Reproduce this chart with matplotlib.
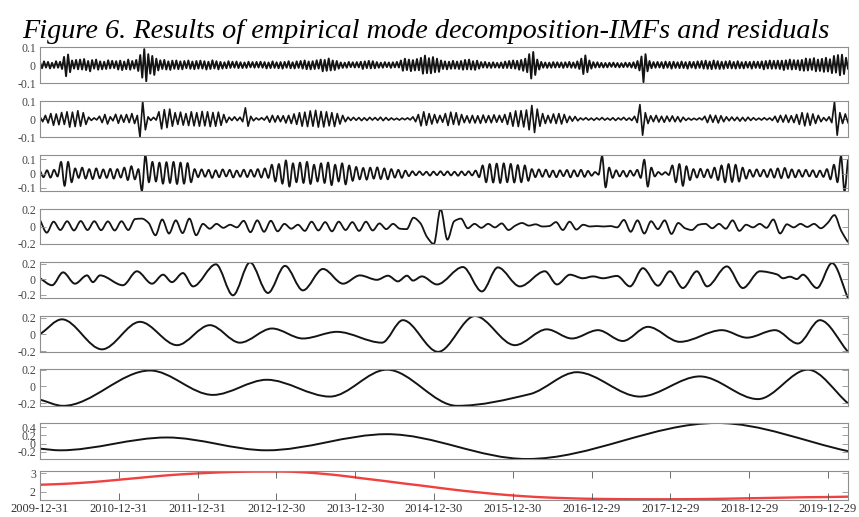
import numpy as np
import matplotlib.pyplot as plt
from matplotlib.path import Path
from matplotlib.patches import PathPatch
from matplotlib.ticker import FuncFormatter

plt.rcParams['font.family'] = ['Liberation Serif', 'DejaVu Serif']
plt.rcParams['axes.unicode_minus'] = False

# time axis: days counted from 2009-12-31
n_days = 3743
tick_days = [0, 365, 730, 1095, 1460, 1825, 2190, 2555, 2920, 3285, 3650]
tick_labels = ['2009-12-31', '2010-12-31', '2011-12-31', '2012-12-30', '2013-12-30',
               '2014-12-30', '2015-12-30', '2016-12-29', '2017-12-29', '2018-12-29',
               '2019-12-29']

# IMF1 / IMF2 / IMF3 / IMF4 extrema (x 0.001), evenly spaced in time
imf1 = [15,-18,20,-14,17,-19,12,-16,21,-15, 18,-22,45,-62,58,-40,25,-20,28,-24,
        30,-25,33,-28,22,-35,27,-20,30,-26, 20,-24,18,-22,26,-19,23,-17,21,-25,
        24,-28,19,-23,30,-26,22,-20,28,-33, 55,-70,88,-90,60,-48,50,-55,35,-30,
        26,-22,28,-25,20,-27,24,-21,25,-23, 20,-24,22,-18,25,-21,19,-23,22,-20,
        24,-20,21,-25,18,-22,26,-19,21,-24, 17,-20,15,-18,21,-16,18,-15,19,-17,
        15,-17,14,-16,18,-13,16,-15,17,-14, 18,-15,16,-19,14,-17,20,-16,15,-18,
        16,-20,17,-15,21,-18,15,-19,20,-16, 22,-20,25,-23,19,-24,21,-22,26,-20,
        30,-35,28,-32,36,-30,25,-28,22,-20, 14,-16,13,-15,17,-12,15,-14,16,-13,
        18,-22,20,-17,23,-19,21,-18,16,-15, 13,-15,16,-12,14,-16,15,-13,17,-14,
        25,-32,35,-28,30,-34,27,-30,33,-29, 40,-48,52,-45,38,-46,44,-40,35,-38,
        25,-22,20,-24,18,-21,23,-20,19,-22, 22,-26,28,-24,30,-25,21,-27,24,-20,
        16,-14,17,-15,13,-16,15,-14,12,-15, 14,-17,19,-16,22,-18,25,-20,23,-26,
        28,-32,35,-40,60,-75,72,-55,30,-25, 17,-15,14,-16,13,-15,16,-14,15,-13,
        14,-16,15,-13,17,-15,14,-16,20,-22, 35,-50,53,-40,25,-20,16,-14,15,-13,
        12,-14,11,-13,12,-10,13,-12,11,-13, 10,-12,13,-11,12,-14,15,-18,22,-30,
        47,-95,60,-35,22,-18,16,-15,17,-14, 16,-18,19,-15,17,-20,18,-16,15,-17,
        19,-17,16,-20,18,-15,17,-19,20,-16, 22,-20,24,-21,19,-23,25,-20,21,-22,
        18,-21,20,-17,22,-19,17,-20,21,-18, 16,-19,18,-15,17,-20,19,-16,18,-17,
        20,-24,22,-19,25,-21,23,-20,24,-22, 24,-28,26,-22,30,-25,27,-23,26,-29,
        28,-32,36,-30,33,-27,38,-35,30,-33, 34,-38,40,-36,32,-45,50,-42,55,-57,
        57,-50,40,-20]

imf2 = [12,-15,20,-22,30,-35,28,-32,36,-30, 40,-45,38,-42,46,-40,35,-30,10,-8,
        6,-5,15,-20,25,-28,12,-10,26,-24, 22,-18,25,-20,30,-25,20,-100,98,-60,
        12,-8,9,-6,40,-55,52,-48,55,-40, 35,-30,38,-34,30,-36,40,-38,35,-40,
        42,-38,40,-42,36,-40,38,-35,25,-20, 10,-8,12,-9,10,-15,62,-40,15,-10,
        6,-5,7,-6,15,-18,20,-17,18,-15, 18,-22,20,-25,28,-30,35,-40,38,-42,
        45,-40,48,-45,42,-44,40,-38,35,-42, 30,-28,20,-15,10,-8,9,-7,8,-9,
        7,-8,9,-6,8,-7,10,-9,8,-7, 6,-5,4,-6,5,-4,6,-5,12,-15,
        25,-38,40,-35,30,-28,25,-22,20,-18, 30,-36,38,-30,35,-33,25,-20,18,-22,
        20,-22,18,-24,22,-20,19,-21,23,-18, 20,-18,25,-30,35,-40,45,-42,46,-44,
        50,-60,75,-75,55,-40,30,-25,20,-22, 28,-25,30,-28,25,-20,15,-12,14,-10,
        6,-5,7,-6,5,-7,6,-5,8,-6, 5,-6,7,-8,6,-5,9,-7,6,-8,
        15,-20,80,-90,35,-25,18,-15,20,-17, 15,-18,16,-14,17,-15,13,-16,10,-8,
        5,-6,4,-5,6,-5,15,-20,22,-18, 20,-22,18,-15,12,-10,11,-9,10,-12,
        9,-11,10,-8,7,-6,5,-6,7,-5, 6,-8,15,-18,20,-17,22,-19,18,-20,
        25,-30,35,-38,32,-35,28,-25,20,-15, 8,-10,12,-20,95,-90,35,-25,28,-20]

imf3 = [20,-25,22,-28,25,-20,80,-85,80,-60, 35,-30,40,-35,30,-38,35,-32,28,-30,
        32,-35,30,-28,40,-45,50,-40,30,-120, 125,-60,80,-55,75,-70,78,-65,80,-72,
        75,-70,72,-60,30,-25,28,-22,25,-30, 22,-25,28,-20,25,-27,20,-22,26,-24,
        25,-22,30,-28,35,-30,60,-55,65,-70, 90,-90,70,-60,75,-65,80,-72,60,-55,
        70,-65,75,-80,60,-55,70,-75,55,-50, 45,-40,38,-42,40,-35,42,-38,35,-40,
        30,-28,25,-30,20,-18,15,-12,14,-10, 12,-14,13,-11,15,-12,14,-13,12,-15,
        14,-12,15,-13,20,-25,55,-60,65,-62, 68,-65,70,-60,66,-62,58,-60,55,-50,
        30,-25,28,-22,26,-24,20,-25,22,-18, 24,-26,22,-20,25,-23,18,-15,10,-8,
        120,-95,40,-30,22,-20,18,-22,20,-15, 25,-30,95,-90,40,-20,10,-8,9,-10,
        55,-60,65,-85,50,-45,30,-28,32,-25, 28,-30,40,-45,55,-60,65,-58,60,-55,
        40,-35,25,-22,28,-20,25,-24,30,-28, 35,-32,38,-30,28,-26,24,-22,25,-20,
        22,-25,20,-23,30,-40,60,-60,120,-120,100]

imf4 = [75,-70,55,-40,60,-45,62,-40,60,-42, 58,-45,60,-40,85,90,40,-100,80,-80,
        70,-75,90,-100,30,-25,30,-15,20,-10, 65,-65,70,-60,65,-55,30,-25,20,-50,
        55,-45,50,-55,55,-40,50,-50,55,-45, 35,-30,30,-25,-30,100,40,-120,-200,200,
        -150,60,90,-20,30,-15,30,-10,35,-40, 10,40,10,25,0,5,50,-40,55,-35,
        20,0,5,0,5,-10,75,-60,70,-80, 60,-30,70,-85,40,-20,-40,20,30,-20,
        30,-25,70,-50,20,-10,30,-15,80,-80, 25,-10,30,-5,30,-20,40,130,-50,-180]

# IMF5 .. IMF8 turning points (day, value)
imf5_days = [0, 56, 107, 162, 218, 245, 278, 384, 449, 519, 570, 611, 662, 709, 815,
             894, 973, 1056, 1135, 1218, 1311, 1404, 1482, 1561, 1612, 1658, 1700,
             1728, 1769, 1839, 1959, 2047, 2121, 2223, 2339, 2395, 2455, 2515, 2562,
             2608, 2673, 2733, 2793, 2863, 2918, 2978, 3043, 3090, 3182, 3256, 3335,
             3414, 3442, 3474, 3506, 3534, 3599, 3669, 3743]
imf5_vals = [0.01, -0.08, 0.086, -0.06, 0.047, -0.04, 0.047, -0.08, 0.10, -0.06, 0.056,
             -0.04, 0.077, -0.095, 0.19, -0.21, 0.215, -0.18, 0.17, -0.146, 0.13, -0.06,
             0.047, -0.01, 0.043, -0.03, 0.043, -0.02, 0.034, -0.07, 0.155, -0.16, 0.15,
             -0.095, 0.10, -0.07, 0.056, 0.01, 0.034, 0.01, 0.04, -0.095, 0.14, -0.086,
             0.10, -0.116, 0.10, -0.095, 0.163, -0.116, 0.10, 0.06, 0.01, 0.03, 0.0,
             0.056, -0.116, 0.206, -0.245]

imf6_days = [0, 102, 287, 463, 635, 787, 926, 1075, 1218, 1376, 1584, 1681, 1844, 2015,
             2200, 2348, 2464, 2585, 2700, 2816, 2964, 3159, 3275, 3405, 3511, 3613, 3743]
imf6_vals = [0.0, 0.18, -0.18, 0.15, -0.13, 0.11, -0.10, 0.07, -0.05, 0.03, -0.10, 0.17,
             -0.21, 0.22, -0.13, 0.06, -0.05, 0.05, -0.08, 0.09, -0.09, 0.05, -0.04, 0.05,
             -0.11, 0.17, -0.21]

imf7_days = [0, 107, 510, 801, 1051, 1343, 1607, 1932, 2270, 2487, 2779, 3057, 3326, 3557, 3743]
imf7_vals = [-0.156, -0.23, 0.19, -0.10, 0.08, -0.12, 0.20, -0.23, -0.09, 0.17, -0.12,
             0.12, -0.15, 0.20, -0.20]

imf8_days = [0, 93, 588, 1051, 1607, 2256, 3136, 3743]
imf8_vals = [-0.12, -0.16, 0.15, -0.16, 0.23, -0.37, 0.5, -0.18]

# residual trend, evenly spaced
residual = [2.38, 2.42, 2.48, 2.56, 2.66, 2.76, 2.86, 2.94, 3.00, 3.05, 3.08, 3.09, 3.09,
            3.05, 2.97, 2.86, 2.72, 2.59, 2.45, 2.32, 2.18, 2.05, 1.94, 1.84, 1.76, 1.70,
            1.66, 1.63, 1.615, 1.605, 1.60, 1.60, 1.605, 1.615, 1.63, 1.65, 1.67, 1.69,
            1.71, 1.72, 1.74]


def smooth_path(x, y):
    # cubic Bezier through every point, flat at turning points
    x = np.asarray(x, float)
    y = np.asarray(y, float)
    dx = np.diff(x)
    sec = np.diff(y) / dx
    m = np.zeros_like(y)
    m[0], m[-1] = sec[0], sec[-1]
    for i in range(1, len(y) - 1):
        if sec[i - 1] * sec[i] > 0:
            m[i] = 2 / (1 / sec[i - 1] + 1 / sec[i])
    verts = [(x[0], y[0])]
    for i in range(len(dx)):
        h = dx[i] / 3
        verts += [(x[i] + h, y[i] + m[i] * h), (x[i + 1] - h, y[i + 1] - m[i + 1] * h),
                  (x[i + 1], y[i + 1])]
    codes = [Path.MOVETO] + [Path.CURVE4] * (3 * len(dx))
    return Path(verts, codes)


W, H = 859, 517
fig = plt.figure(figsize=(W / 100, H / 100), dpi=100)

# panel frames in pixels: (top, bottom)
frames = [(47, 83), (101, 137), (155, 191), (209, 244), (262, 298),
          (316, 352), (369, 406), (423, 459), (471, 500)]
ylims = [(-0.1, 0.1), (-0.1, 0.1), (-0.121, 0.128), (-0.2, 0.2), (-0.245, 0.22),
         (-0.212, 0.22), (-0.232, 0.208), (-0.37, 0.5), (1.56, 3.12)]
yticks = [[-0.1, 0, 0.1], [-0.1, 0, 0.1], [-0.1, 0, 0.1], [-0.2, 0, 0.2], [-0.2, 0, 0.2],
          [-0.2, 0, 0.2], [-0.2, 0, 0.2], [-0.2, 0, 0.2, 0.4], [2, 3]]

axes = []
for (top, bot), yl, yt in zip(frames, ylims, yticks):
    ax = fig.add_axes([40 / W, 1 - bot / H, 808 / W, (bot - top) / H])
    ax.set_xlim(0, n_days)
    ax.set_ylim(*yl)
    ax.set_yticks(yt)
    ax.yaxis.set_major_formatter(FuncFormatter(lambda v, p: '%g' % v))
    for s in ax.spines.values():
        s.set_color('#8f8f8f')
        s.set_linewidth(0.8)
    ax.tick_params(axis='y', direction='in', length=4, width=0.6, color='#8f8f8f',
                   left=True, right=True, labelsize=8.5, labelcolor='#444444', pad=3)
    ax.tick_params(axis='x', bottom=False, labelbottom=False)
    axes.append(ax)

line_col = '#141414'
for ax, vals, lw in zip(axes[:2], [imf1, imf2], [1.4, 1.2]):
    t = np.linspace(0, n_days, len(vals))
    ax.plot(t, np.array(vals) / 1000, color=line_col, lw=lw)

for ax, vals in zip(axes[2:4], [imf3, imf4]):
    t = np.linspace(0, n_days, len(vals))
    ax.add_patch(PathPatch(smooth_path(t, np.array(vals) / 1000), fill=False,
                           edgecolor=line_col, lw=1.3))

for ax, d, v in zip(axes[4:8], [imf5_days, imf6_days, imf7_days, imf8_days],
                    [imf5_vals, imf6_vals, imf7_vals, imf8_vals]):
    ax.add_patch(PathPatch(smooth_path(d, v), fill=False, edgecolor=line_col, lw=1.4))

ax = axes[8]
t = np.linspace(0, n_days, len(residual))
ax.add_patch(PathPatch(smooth_path(t, residual), fill=False, edgecolor='#f04040', lw=1.7))
ax.set_xticks(tick_days)
ax.set_xticklabels(tick_labels)
ax.tick_params(axis='x', direction='in', length=5, width=0.6, color='#555555',
               bottom=True, top=True, labelbottom=True, labelsize=9,
               labelcolor='#333333', pad=2)

fig.text(22 / W, 1 - 38 / H,
         'Figure 6. Results of empirical mode decomposition-IMFs and residuals',
         fontsize=20.3, style='italic', va='baseline', ha='left')

fig.savefig('out.png', dpi=100)
